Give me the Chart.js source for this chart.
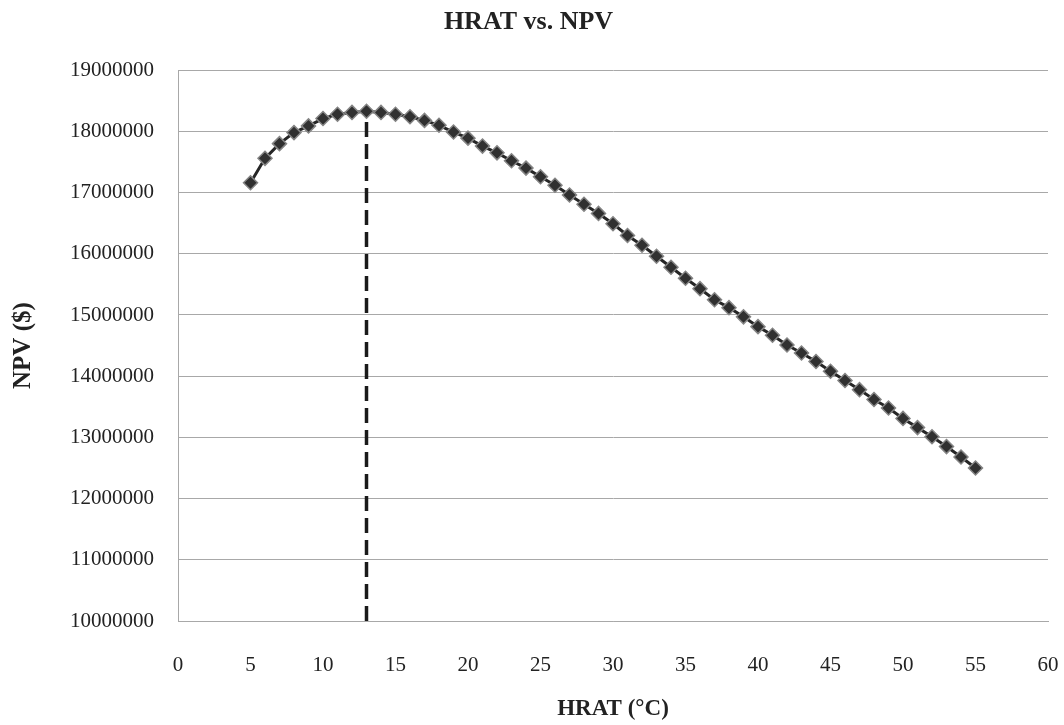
<!DOCTYPE html>
<html>
<head>
<meta charset="utf-8">
<script src="https://cdn.jsdelivr.net/npm/chart.js@4/dist/chart.umd.min.js"></script>
<style>
  html, body { margin: 0; padding: 0; background: #fff; }
  #wrap { width: 1064px; height: 725px; }
</style>
</head>
<body>
<div id="wrap"><canvas id="chart" width="1064" height="725"></canvas></div>
<script>
// HRAT (deg C) and NPV ($)
const hrat = [5, 6, 7, 8, 9, 10, 11, 12, 13, 14, 15, 16, 17, 18, 19, 20, 21, 22, 23, 24, 25,
  26, 27, 28, 29, 30, 31, 32, 33, 34, 35, 36, 37, 38, 39, 40, 41, 42, 43, 44, 45,
  46, 47, 48, 49, 50, 51, 52, 53, 54, 55];
const npv = [17160000, 17560000, 17800000, 17980000, 18090000, 18210000, 18280000, 18310000,
  18330000, 18310000, 18280000, 18240000, 18180000, 18100000, 17990000, 17890000, 17760000,
  17650000, 17520000, 17400000, 17260000, 17120000, 16960000, 16810000, 16660000, 16490000,
  16300000, 16140000, 15960000, 15780000, 15600000, 15430000, 15250000, 15120000, 14970000,
  14810000, 14670000, 14510000, 14380000, 14240000, 14080000, 13930000, 13780000, 13620000,
  13480000, 13310000, 13160000, 13010000, 12850000, 12680000, 12500000];

// dashed marker at the optimum HRAT
const optimumX = [13, 13];
const optimumY = [10000000, 18330000];

const xTicks = [0, 5, 10, 15, 20, 25, 30, 35, 40, 45, 50, 55, 60];
const yTicks = [10000000, 11000000, 12000000, 13000000, 14000000, 15000000, 16000000,
  17000000, 18000000, 19000000];

const SERIF = '"Liberation Serif", "DejaVu Serif", serif';
const TEXT = '#222';
const GRID = '#a8a8a8';

const curve = hrat.map((x, i) => ({ x, y: npv[i] }));
const optimum = optimumX.map((x, i) => ({ x, y: optimumY[i] }));

new Chart(document.getElementById('chart'), {
  type: 'line',
  data: {
    datasets: [
      {
        label: 'NPV',
        data: curve,
        borderColor: '#262626',
        borderWidth: 3,
        pointStyle: 'rectRot',
        pointRadius: 7,
        pointBackgroundColor: '#303030',
        pointBorderColor: '#858585',
        pointBorderWidth: 1.5,
        tension: 0,
      },
      {
        label: 'Optimum',
        data: optimum,
        borderColor: '#1a1a1a',
        borderWidth: 3.5,
        borderDash: [15, 7],
        pointRadius: 0,
        tension: 0,
      },
    ],
  },
  options: {
    responsive: false,
    animation: false,
    layout: { padding: { top: 0, right: 16, bottom: 0, left: 9 } },
    plugins: {
      legend: { display: false },
      tooltip: { enabled: false },
      title: {
        display: true,
        text: 'HRAT vs. NPV',
        color: TEXT,
        font: { family: SERIF, size: 26, weight: 'bold' },
        padding: { top: 7, bottom: 32 },
      },
    },
    scales: {
      x: {
        type: 'linear',
        min: 0,
        max: 60,
        afterBuildTicks: (s) => { s.ticks = xTicks.map((v) => ({ value: v })); },
        afterFit: (s) => {
          s.height = 725 - 621;
          s.paddingLeft = 0;
          s.paddingRight = 0;
        },
        ticks: {
          color: TEXT,
          font: { family: SERIF, size: 21 },
          padding: 32,
          maxRotation: 0,
        },
        grid: { display: false, drawTicks: false },
        border: { display: true, color: GRID, width: 1 },
        title: {
          display: true,
          text: 'HRAT (°C)',
          color: TEXT,
          font: { family: SERIF, size: 23, weight: 'bold' },
          padding: { top: 0, bottom: 2 },
        },
      },
      y: {
        type: 'linear',
        min: 10000000,
        max: 19000000,
        afterBuildTicks: (s) => { s.ticks = yTicks.map((v) => ({ value: v })); },
        afterFit: (s) => { s.width = 178 - 9; },
        ticks: {
          color: TEXT,
          font: { family: SERIF, size: 21 },
          padding: 24,
          callback: (v) => String(v),
        },
        grid: { color: GRID, lineWidth: 1, drawTicks: false },
        border: { display: true, color: GRID, width: 1 },
        title: {
          display: true,
          text: 'NPV ($)',
          color: TEXT,
          font: { family: SERIF, size: 25, weight: 'bold' },
          padding: 0,
        },
      },
    },
  },
});
</script>
</body>
</html>
